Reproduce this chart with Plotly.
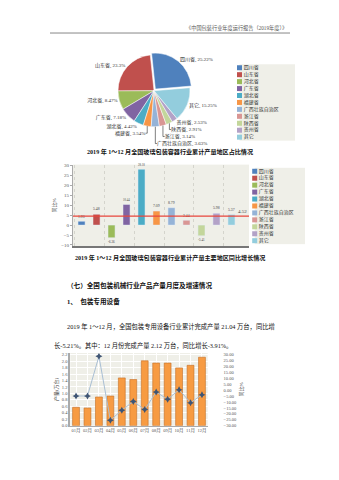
import plotly.graph_objects as go

W, H = 339, 480
def X(px): return px / W
def Y(py): return 1 - py / H

FONT = "Liberation Serif, Noto Sans CJK SC, serif"

# ---------------- data ----------------
regions = ["四川省", "山东省", "河北省", "广东省", "湖北省", "福建省",
           "广西壮族自治区", "浙江省", "陕西省", "贵州省", "其它"]
pie_shares = [25.22, 23.3, 8.47, 7.18, 4.42, 3.54, 3.63, 3.14, 2.91, 2.53, 15.25]
region_colors = ["#4F81BD", "#C0504D", "#9BBB59", "#8064A2", "#4BACC6", "#F79646",
                 "#95B3D7", "#D99694", "#C3D69B", "#B3A2C7", "#93CDDD"]

growth_values = [1.93, 5.48, -6.36, 10.44, 28.18, 7.09, 8.79, 2.44, -5.41, 5.98, 5.37]
growth_total = 4.52
growth_ticks = [30, 25, 20, 15, 10, 5, 0, -5, -10]

months = ["01月", "02月", "03月", "04月", "05月", "06月",
          "07月", "08月", "09月", "10月", "11月", "12月"]
output_wan = [0.57, 0.55, 0.89, 0.92, 1.48, 1.43, 2.01, 1.94, 1.94, 1.79, 1.87, 2.12]
yoy_pct = [-4.9, -4.9, 28.6, -25.3, -16.9, -9.6, -16.3, -1.5, -7.7, 0.4, -10.5, -3.91]
left_ticks = [0.0, 0.2, 0.4, 0.6, 0.8, 1.0, 1.2, 1.4, 1.6, 1.8, 2.0, 2.2]
right_ticks = [30, 25, 20, 15, 10, 5, 0, -5, -10, -15, -20, -25, -30]

fig = go.Figure()

# ---------------- pie ----------------
fig.add_trace(go.Pie(
    labels=regions, values=pie_shares, sort=False,
    direction="counterclockwise", rotation=-6,
    pull=[0.06] + [0] * (len(regions) - 1),
    marker=dict(colors=region_colors, line=dict(color="white", width=0.5)),
    textposition="outside", texttemplate="%{label}, %{value}%",
    textfont=dict(size=5, color="#333333", family=FONT),
    domain=dict(x=[X(113), X(195)], y=[Y(129), Y(52)]),
    showlegend=False, hoverinfo="skip"))

# pie legend (custom)
fig.add_trace(go.Scatter(
    x=[0] * len(regions), y=list(range(len(regions))),
    mode="markers+text", text=regions, textposition="middle right",
    marker=dict(symbol="square", size=5, color=region_colors),
    textfont=dict(size=5, color="#333333", family=FONT),
    xaxis="x4", yaxis="y4", showlegend=False, hoverinfo="skip", cliponaxis=False))

# ---------------- chart 1: growth by region ----------------
fig.add_trace(go.Bar(
    x=regions, y=growth_values, marker=dict(color=region_colors),
    width=0.47, text=[f"{v:.2f}" for v in growth_values], textposition="outside",
    textfont=dict(size=5, color="#444444", family=FONT), cliponaxis=False,
    xaxis="x", yaxis="y", showlegend=False, hoverinfo="skip"))

fig.add_trace(go.Scatter(
    x=[0] * len(regions), y=list(range(len(regions))),
    mode="markers+text", text=regions, textposition="middle right",
    marker=dict(symbol="square", size=5, color=region_colors),
    textfont=dict(size=5, color="#333333", family=FONT),
    xaxis="x5", yaxis="y5", showlegend=False, hoverinfo="skip", cliponaxis=False))

# ---------------- chart 3: monthly output ----------------
fig.add_trace(go.Bar(
    x=months, y=output_wan, width=0.6,
    marker=dict(color="#F79B42", line=dict(color="#C46E26", width=0.6)),
    xaxis="x2", yaxis="y2", showlegend=False, hoverinfo="skip"))
fig.add_trace(go.Scatter(
    x=months, y=yoy_pct, mode="lines+markers",
    line=dict(color="#A9BFD4", width=1),
    marker=dict(symbol="star-diamond", size=5, color="#3F5574"),
    xaxis="x2", yaxis="y3", showlegend=False, hoverinfo="skip"))

tickfont = dict(size=5, color="#555555", family=FONT)
smalltick = dict(size=4.5, color="#555555", family=FONT)

fig.update_layout(
    width=W, height=H, margin=dict(l=0, r=0, t=0, b=0),
    paper_bgcolor="white", plot_bgcolor="#EFEFE8",
    barmode="overlay", font=dict(family=FONT),
    xaxis=dict(domain=[X(73), X(249)], anchor="y", type="category",
               showticklabels=False, ticks="", tickson="boundaries",
               showgrid=True, gridcolor="#D4D4CC", griddash="dot", gridwidth=1,
               showline=True, linecolor="#777777", linewidth=1.5, zeroline=False,
               range=[-0.57, len(regions) + 0.17]),
    yaxis=dict(domain=[Y(247), Y(165)], anchor="x", range=[-10.5, 30.5],
               tickvals=growth_ticks, tickfont=tickfont, showgrid=False,
               zeroline=False, showline=True, linecolor="#AAAAAA", linewidth=1,
               ticks="outside", ticklen=2, tickcolor="#AAAAAA",
               title=dict(text="同比%", font=dict(size=5, color="#444444"), standoff=4)),
    xaxis2=dict(domain=[X(70.3), X(207.7)], anchor="y2", type="category",
                range=[-0.5, len(months) - 0.5], tickfont=smalltick, tickangle=0,
                tickson="labels", showgrid=True, gridcolor="#FFFFFF", gridwidth=1,
                showline=True, linecolor="#AAAAAA", zeroline=False, ticks=""),
    yaxis2=dict(domain=[Y(428.3), Y(355)], anchor="x2", range=[0, 2.25],
                tickvals=left_ticks, tickformat=".1f", tickfont=smalltick,
                showgrid=True, gridcolor="#FFFFFF", gridwidth=1, zeroline=False,
                showline=True, linecolor="#AAAAAA", linewidth=2,
                title=dict(text="产量(万台)", font=dict(size=5, color="#444444"), standoff=3)),
    yaxis3=dict(overlaying="y2", side="right", anchor="x2",
                range=[-30, 31.36], tickvals=right_ticks, tickformat=".2f",
                tickfont=smalltick, showgrid=False, zeroline=False,
                showline=False, ticks="outside", ticklen=14, tickcolor="rgba(0,0,0,0)",
                title=dict(text="同比%", font=dict(size=5, color="#444444"), standoff=3)),
    xaxis4=dict(domain=[X(239.5), X(295)], anchor="y4", range=[0, 1], visible=False),
    yaxis4=dict(domain=[Y(140.8), Y(63.8)], anchor="x4", range=[10.5, -0.5], visible=False),
    xaxis5=dict(domain=[X(254.7), X(305)], anchor="y5", range=[0, 1], visible=False),
    yaxis5=dict(domain=[Y(245.2), Y(168.2)], anchor="x5", range=[10.5, -0.5], visible=False),
)

# total growth line on chart 1
fig.add_shape(type="line", xref="x domain", yref="y", x0=0, x1=1,
              y0=growth_total, y1=growth_total, line=dict(color="#E8463C", width=1.2))
fig.add_annotation(xref="x domain", yref="y", x=1, y=growth_total, text=f"{growth_total:.2f}",
                   showarrow=False, xanchor="right", yanchor="bottom",
                   font=dict(size=5, color="#444444", family=FONT))

# page header
fig.add_shape(type="line", xref="paper", yref="paper", x0=X(50), x1=X(290),
              y0=Y(32.3), y1=Y(32.3), line=dict(color="#888888", width=1))
fig.add_annotation(xref="paper", yref="paper", x=X(289), y=Y(27.5),
                   text="《中国包装行业年度运行报告（2019年度）》", showarrow=False,
                   xanchor="right", yanchor="middle",
                   font=dict(size=5.2, color="#555555", family=FONT))

def page_text(px, py, text, size, anchor="left", bold=False):
    fig.add_annotation(xref="paper", yref="paper", x=X(px), y=Y(py),
                       text=f"<b>{text}</b>" if bold else text, showarrow=False,
                       xanchor=anchor, yanchor="middle",
                       font=dict(size=size, color="#111111", family=FONT))

page_text(170, 152.5, "2019 年 1～12 月全国玻璃包装容器行业累计产量地区占比情况", 6.1, "center", True)
page_text(170, 259, "2019 年 1～12 月全国玻璃包装容器行业累计产量主要地区同比增长情况", 6.1, "center", True)
page_text(65, 286.7, "（七）全国包装机械行业产品产量月度及增速情况", 6.6, "left", True)
page_text(65, 303, "1、  包装专用设备", 6.6, "left", True)
page_text(65, 328, "2019 年 1～12 月，全国包装专用设备行业累计完成产量 21.04 万台，同比增", 6.3)
page_text(52, 347, "长-5.21%。其中：12 月份完成产量 2.12 万台，同比增长-3.91%。", 6.3)

fig.write_html("out.html")
